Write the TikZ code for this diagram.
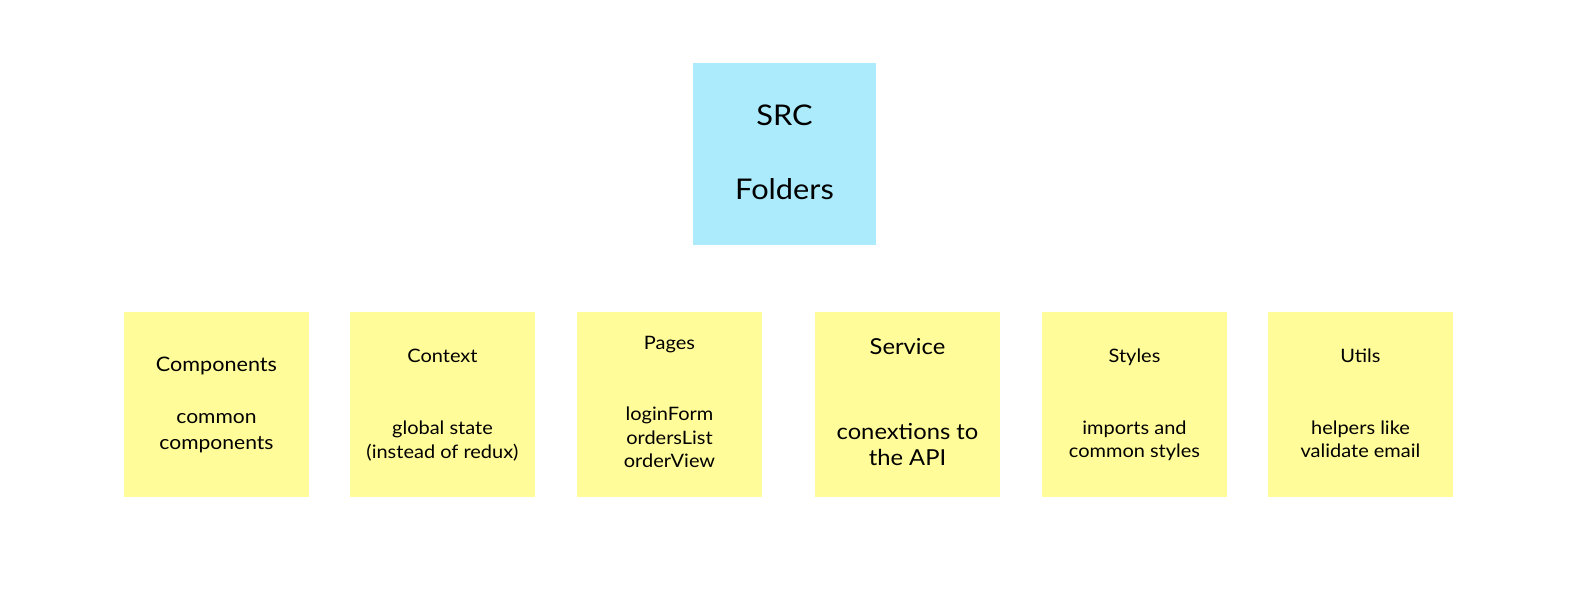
\documentclass[tikz,border=0pt]{standalone}
\usepackage{fontspec}
\setmainfont[FakeStretch=1.08]{Lato}
\definecolor{srcblue}{RGB}{171,235,252}
\definecolor{stickyyellow}{RGB}{255,252,153}
\begin{document}
\begin{tikzpicture}[x=1pt,y=-1pt,
  sticky/.style={fill=stickyyellow,draw=none,minimum width=185pt,minimum height=185pt,inner sep=0pt},
  srcbox/.style={fill=srcblue,draw=none,minimum width=183pt,minimum height=182pt,inner sep=0pt},
  big/.style={anchor=base,inner sep=0pt,font=\fontsize{28.5}{32}\selectfont},
  ttl/.style={anchor=base,inner sep=0pt,font=\fontsize{18.5}{22}\selectfont},
  txt/.style={anchor=base,inner sep=0pt,font=\fontsize{18.5}{22}\selectfont}]
\useasboundingbox (0,0) rectangle (1580,612);
\fill[white] (0,0) rectangle (1580,612);
% SRC box
\node[srcbox] (src) at (784.5,154) {};
\node[big] (srcA) at (784.5,126) {SRC};
\node[big] (srcB) at (784.5,199.5) {Folders};
% sticky notes
\node[sticky] (comp) at (216.5,404.5) {};
\node[sticky] (ctx) at (442.5,404.5) {};
\node[sticky] (pages) at (669.5,404.5) {};
\node[sticky] (serv) at (907.5,404.5) {};
\node[sticky] (styl) at (1134.5,404.5) {};
\node[sticky] (util) at (1360.5,404.5) {};
% Components
\node[ttl,font=\fontsize{20}{24}\selectfont] (compT) at (216.5,371.5) {Components};
\node[txt,font=\fontsize{19.5}{24}\selectfont] (compA) at (216.5,423) {common};
\node[txt,font=\fontsize{19.5}{24}\selectfont] (compB) at (216.5,449) {components};
% Context
\node[ttl] (ctxT) at (442.5,362.5) {Context};
\node[txt] (ctxA) at (442.5,434) {global state};
\node[txt] (ctxB) at (442.5,458) {(instead of redux)};
% Pages
\node[ttl] (pagesT) at (669.5,349) {Pages};
\node[txt] (pagesA) at (669.5,420.5) {loginForm};
\node[txt] (pagesB) at (669.5,444) {ordersList};
\node[txt] (pagesC) at (669.5,467.5) {orderView};
% Service
\node[ttl,font=\fontsize{22}{26}\selectfont] (servT) at (907.5,354.5) {Service};
\node[txt,font=\fontsize{22}{26}\selectfont] (servA) at (907.5,439.5) {conextions to};
\node[txt,font=\fontsize{22}{26}\selectfont] (servB) at (907.5,465.5) {the API};
% Styles
\node[ttl] (stylT) at (1134.5,362.5) {Styles};
\node[txt] (stylA) at (1134.5,434) {imports and};
\node[txt] (stylB) at (1134.5,457.5) {common styles};
% Utils
\node[ttl] (utilT) at (1360.5,362.5) {Utils};
\node[txt] (utilA) at (1360.5,434) {helpers like};
\node[txt] (utilB) at (1360.5,457.5) {validate email};
\end{tikzpicture}
\end{document}
